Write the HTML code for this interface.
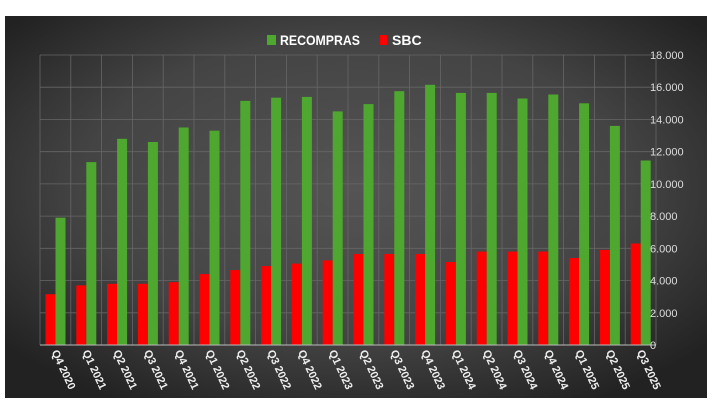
<!DOCTYPE html>
<html><head><meta charset="utf-8"><style>
html,body{margin:0;padding:0;background:#fff;}
svg{display:block;font-family:"Liberation Sans",sans-serif;}
</style></head><body>
<svg width="712" height="408" viewBox="0 0 712 408">
<defs>
<radialGradient id="bg" cx="50%" cy="45%" r="65%">
<stop offset="0" stop-color="#545454"/>
<stop offset="0.6" stop-color="#444"/>
<stop offset="1" stop-color="#222"/>
</radialGradient>
</defs>
<rect x="5" y="16" width="702" height="382" fill="url(#bg)"/>
<g stroke="#666" stroke-width="0.8">
<line x1="40" y1="312.8" x2="656" y2="312.8"/>
<line x1="40" y1="280.6" x2="656" y2="280.6"/>
<line x1="40" y1="248.3" x2="656" y2="248.3"/>
<line x1="40" y1="216.1" x2="656" y2="216.1"/>
<line x1="40" y1="183.9" x2="656" y2="183.9"/>
<line x1="40" y1="151.7" x2="656" y2="151.7"/>
<line x1="40" y1="119.4" x2="656" y2="119.4"/>
<line x1="40" y1="87.2" x2="656" y2="87.2"/>
<line x1="40" y1="55" x2="656" y2="55"/>
<line x1="40" y1="55" x2="40" y2="345"/>
<line x1="70.8" y1="55" x2="70.8" y2="345"/>
<line x1="101.6" y1="55" x2="101.6" y2="345"/>
<line x1="132.4" y1="55" x2="132.4" y2="345"/>
<line x1="163.2" y1="55" x2="163.2" y2="345"/>
<line x1="194" y1="55" x2="194" y2="345"/>
<line x1="224.8" y1="55" x2="224.8" y2="345"/>
<line x1="255.6" y1="55" x2="255.6" y2="345"/>
<line x1="286.4" y1="55" x2="286.4" y2="345"/>
<line x1="317.2" y1="55" x2="317.2" y2="345"/>
<line x1="348" y1="55" x2="348" y2="345"/>
<line x1="378.8" y1="55" x2="378.8" y2="345"/>
<line x1="409.6" y1="55" x2="409.6" y2="345"/>
<line x1="440.4" y1="55" x2="440.4" y2="345"/>
<line x1="471.2" y1="55" x2="471.2" y2="345"/>
<line x1="502" y1="55" x2="502" y2="345"/>
<line x1="532.8" y1="55" x2="532.8" y2="345"/>
<line x1="563.6" y1="55" x2="563.6" y2="345"/>
<line x1="594.4" y1="55" x2="594.4" y2="345"/>
<line x1="625.2" y1="55" x2="625.2" y2="345"/>
<line x1="656" y1="55" x2="656" y2="345"/>
</g>
<g fill="#ff0000">
<rect x="45.5" y="294.2" width="10" height="50.8"/>
<rect x="76.3" y="285.4" width="10" height="59.6"/>
<rect x="107.1" y="283.8" width="10" height="61.2"/>
<rect x="137.9" y="283.8" width="10" height="61.2"/>
<rect x="168.7" y="282.2" width="10" height="62.8"/>
<rect x="199.5" y="274.1" width="10" height="70.9"/>
<rect x="230.3" y="270.1" width="10" height="74.9"/>
<rect x="261.1" y="266.1" width="10" height="78.9"/>
<rect x="291.9" y="263.6" width="10" height="81.4"/>
<rect x="322.7" y="260.4" width="10" height="84.6"/>
<rect x="353.5" y="254" width="10" height="91"/>
<rect x="384.3" y="254" width="10" height="91"/>
<rect x="415.1" y="254" width="10" height="91"/>
<rect x="445.9" y="262" width="10" height="83"/>
<rect x="476.7" y="251.6" width="10" height="93.4"/>
<rect x="507.5" y="251.6" width="10" height="93.4"/>
<rect x="538.3" y="251.6" width="10" height="93.4"/>
<rect x="569.1" y="258" width="10" height="87"/>
<rect x="599.9" y="249.9" width="10" height="95.1"/>
<rect x="630.7" y="243.5" width="10" height="101.5"/>
</g>
<g fill="#4ea72e">
<rect x="55.5" y="217.7" width="10" height="127.3"/>
<rect x="86.3" y="162.1" width="10" height="182.9"/>
<rect x="117.1" y="138.8" width="10" height="206.2"/>
<rect x="147.9" y="142" width="10" height="203"/>
<rect x="178.7" y="127.5" width="10" height="217.5"/>
<rect x="209.5" y="130.7" width="10" height="214.3"/>
<rect x="240.3" y="100.9" width="10" height="244.1"/>
<rect x="271.1" y="97.7" width="10" height="247.3"/>
<rect x="301.9" y="96.9" width="10" height="248.1"/>
<rect x="332.7" y="111.4" width="10" height="233.6"/>
<rect x="363.5" y="104.1" width="10" height="240.9"/>
<rect x="394.3" y="91.2" width="10" height="253.8"/>
<rect x="425.1" y="84.8" width="10" height="260.2"/>
<rect x="455.9" y="92.9" width="10" height="252.1"/>
<rect x="486.7" y="92.9" width="10" height="252.1"/>
<rect x="517.5" y="98.5" width="10" height="246.5"/>
<rect x="548.3" y="94.5" width="10" height="250.5"/>
<rect x="579.1" y="103.3" width="10" height="241.7"/>
<rect x="609.9" y="125.9" width="10" height="219.1"/>
<rect x="640.7" y="160.5" width="10" height="184.5"/>
</g>
<line x1="40" y1="345" x2="656" y2="345" stroke="#bbb" stroke-width="1"/>
<g fill="#ddd" font-size="11">
<text x="650" y="349">0</text>
<text x="650" y="316.8">2.000</text>
<text x="650" y="284.6">4.000</text>
<text x="650" y="252.3">6.000</text>
<text x="650" y="220.1">8.000</text>
<text x="650" y="187.9">10.000</text>
<text x="650" y="155.7">12.000</text>
<text x="650" y="123.4">14.000</text>
<text x="650" y="91.2">16.000</text>
<text x="650" y="59">18.000</text>
</g>
<g fill="#eee" font-size="11" font-weight="bold">
<text transform="translate(51.4 352) rotate(65)">Q4 2020</text>
<text transform="translate(82.2 352) rotate(65)">Q1 2021</text>
<text transform="translate(113 352) rotate(65)">Q2 2021</text>
<text transform="translate(143.8 352) rotate(65)">Q3 2021</text>
<text transform="translate(174.6 352) rotate(65)">Q4 2021</text>
<text transform="translate(205.4 352) rotate(65)">Q1 2022</text>
<text transform="translate(236.2 352) rotate(65)">Q2 2022</text>
<text transform="translate(267 352) rotate(65)">Q3 2022</text>
<text transform="translate(297.8 352) rotate(65)">Q4 2022</text>
<text transform="translate(328.6 352) rotate(65)">Q1 2023</text>
<text transform="translate(359.4 352) rotate(65)">Q2 2023</text>
<text transform="translate(390.2 352) rotate(65)">Q3 2023</text>
<text transform="translate(421 352) rotate(65)">Q4 2023</text>
<text transform="translate(451.8 352) rotate(65)">Q1 2024</text>
<text transform="translate(482.6 352) rotate(65)">Q2 2024</text>
<text transform="translate(513.4 352) rotate(65)">Q3 2024</text>
<text transform="translate(544.2 352) rotate(65)">Q4 2024</text>
<text transform="translate(575 352) rotate(65)">Q1 2025</text>
<text transform="translate(605.8 352) rotate(65)">Q2 2025</text>
<text transform="translate(636.6 352) rotate(65)">Q3 2025</text>
</g>
<g font-size="14" font-weight="bold" fill="#fff">
<rect x="267" y="35" width="9" height="10" fill="#4ea72e"/>
<text x="280" y="45" textLength="80" lengthAdjust="spacingAndGlyphs">RECOMPRAS</text>
<rect x="380" y="35" width="7" height="10" fill="#ff0000"/>
<text x="392" y="45">SBC</text>
</g>
</svg>
</body></html>
